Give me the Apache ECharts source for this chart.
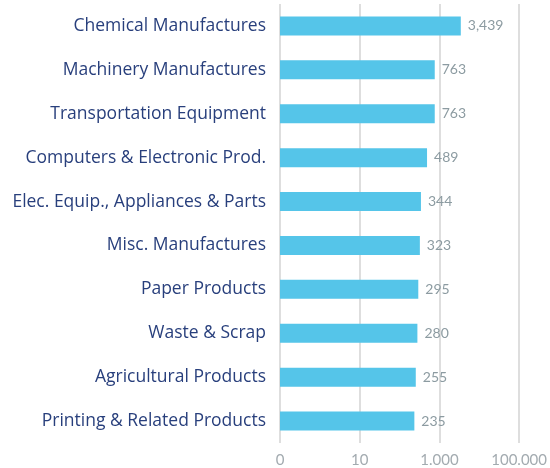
<!DOCTYPE html>
<html><head><meta charset="utf-8">
<script src="https://cdn.jsdelivr.net/npm/echarts@6/dist/echarts.min.js"></script>
<style>html,body{margin:0;padding:0;background:#fff}#c{width:550px;height:468px}</style>
</head><body><div id="c"></div>
<script>
const categories = ["Chemical Manufactures","Machinery Manufactures","Transportation Equipment","Computers & Electronic Prod.","Elec. Equip., Appliances & Parts","Misc. Manufactures","Paper Products","Waste & Scrap","Agricultural Products","Printing & Related Products"];
const values = [3439, 763, 763, 489, 344, 323, 295, 280, 255, 235];
const axisMin = 0.1, axisMax = 100000;

const chart = echarts.init(document.getElementById('c'), null, {renderer:'canvas'});
chart.setOption({
  animation:false,
  grid:{left:280, right:28, top:4, bottom:22, containLabel:false},
  xAxis:{
    type:'log', logBase:10, min:axisMin, max:axisMax, interval:2,
    axisLine:{show:false}, axisTick:{show:false},
    splitLine:{show:true, lineStyle:{color:'#d3d3d3', width:1.5}},
    axisLabel:{color:'#a3abb0', fontFamily:'Lato', fontSize:15, margin:10,
      formatter:v=> v<1 ? '0' : Math.round(v).toString().replace(/\B(?=(\d{3})+(?!\d))/g,'.')}
  },
  yAxis:{
    type:'category', data:categories, inverse:true,
    axisLine:{show:false}, axisTick:{show:false},
    axisLabel:{color:'#283f7c', fontFamily:'Open Sans', fontSize:17.5, margin:14}
  },
  series:[{
    type:'bar', stack:'s', data:categories.map(()=>axisMin), barWidth:19,
    itemStyle:{color:'rgba(0,0,0,0)'}, silent:true
  },{
    type:'bar', stack:'s', data:values, barWidth:19,
    itemStyle:{color:'#55c5e9'},
    label:{show:true, position:'right', distance:7, color:'#8c9ba1', fontFamily:'Lato', fontSize:14,
      formatter:p=>p.value.toLocaleString('en-US')}
  }]
});
</script></body></html>
